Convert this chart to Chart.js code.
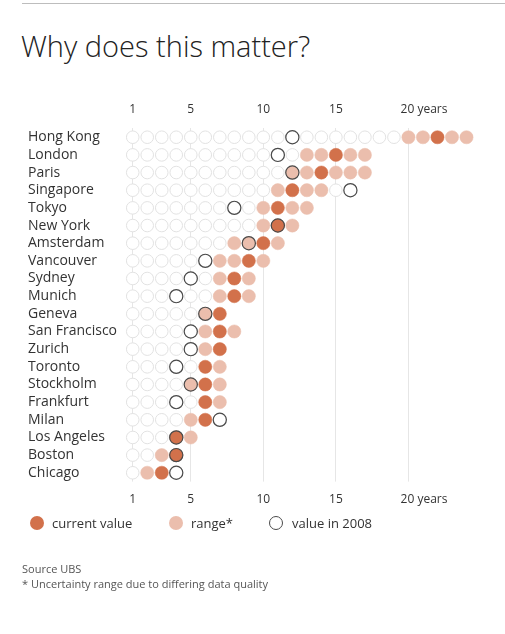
<!DOCTYPE html>
<html>
<head>
<meta charset="utf-8">
<script src="https://cdn.jsdelivr.net/npm/chart.js@4"></script>
<style>
    body { margin: 0; background: #fff; font-family: "Open Sans", sans-serif; }
    #page { position: relative; width: 505px; height: 634px; overflow: hidden; }
    #topline { position: absolute; left: 22px; right: 0; top: 3px; border-top: 1px solid #bdbdbd; }
    #title { position: absolute; left: 21px; top: 31px; font-size: 29px; line-height: 29px; font-weight: 300; color: #222; white-space: nowrap; }
    #chart-box { position: absolute; left: 0; top: 0; width: 505px; height: 634px; }
    .leg { position: absolute; top: 514px; height: 18px; font-size: 13px; line-height: 18px; color: #333; white-space: nowrap; }
    .dot { position: absolute; top: 2px; width: 14px; height: 14px; border-radius: 50%; box-sizing: border-box; }
    #source { position: absolute; left: 22px; top: 561px; font-size: 11px; line-height: 15px; color: #555; }
</style>
</head>
<body>
<div id="page">
    <div id="topline"></div>
    <div id="title">Why does this matter?</div>
    <div id="chart-box"><canvas id="myChart"></canvas></div>
    <div class="leg" style="left:30px"><span class="dot" style="left:0;background:#d2714b"></span><span style="position:absolute;left:22px">current value</span></div>
    <div class="leg" style="left:169px"><span class="dot" style="left:0;background:#ebbead"></span><span style="position:absolute;left:22px">range*</span></div>
    <div class="leg" style="left:269px"><span class="dot" style="left:0;border:1.3px solid #4a4a4a"></span><span style="position:absolute;left:23px">value in 2008</span></div>
    <div id="source">Source UBS<br>* Uncertainty range due to differing data quality</div>
</div>
<script>
// =====================
// Data (years of income needed)
// =====================
const cities = ['Hong Kong', 'London', 'Paris', 'Singapore', 'Tokyo', 'New York', 'Amsterdam',
    'Vancouver', 'Sydney', 'Munich', 'Geneva', 'San Francisco', 'Zurich', 'Toronto',
    'Stockholm', 'Frankfurt', 'Milan', 'Los Angeles', 'Boston', 'Chicago'];
const currentValue = [22, 15, 14, 12, 11, 11, 10, 9, 8, 8, 7, 7, 7, 6, 6, 6, 6, 4, 4, 3];
const rangeLow =     [20, 13, 12, 11, 10, 10, 8, 7, 7, 7, 6, 6, 6, 6, 5, 6, 5, 4, 3, 2];
const rangeHigh =    [24, 17, 17, 14, 13, 12, 11, 10, 9, 9, 7, 8, 7, 7, 7, 7, 6, 5, 4, 3];
const value2008 =    [12, 11, 12, 16, 8, 11, 9, 6, 5, 4, 6, 5, 5, 4, 5, 4, 7, 4, 4, 4];
const xTicks = [1, 5, 10, 15, 20];

// =====================
// Build the dot rows
// =====================
function buildDots() {
    const empty = [], range = [], current = [], past = [];
    cities.forEach((city, i) => {
        const last = Math.max(rangeHigh[i], value2008[i]);
        for (let v = 1; v <= last; v++) {
            const inRange = v >= rangeLow[i] && v <= rangeHigh[i];
            if (v === currentValue[i]) {
                current.push({x: v, y: city});
            } else if (inRange) {
                range.push({x: v, y: city});
            } else {
                empty.push({x: v, y: city});
            }
        }
        past.push({x: value2008[i], y: city});
    });
    return {empty, range, current, past};
}

function tickLabel(v) {
    // pad so the number itself sits on the tick
    return v === 20 ? '          20 years' : String(v);
}

function xAxis(position, padding, showGrid) {
    return {
        type: 'linear',
        position: position,
        min: 0.33,
        max: 25,
        afterBuildTicks: scale => { scale.ticks = xTicks.map(v => ({value: v})); },
        ticks: {
            padding: padding,
            autoSkip: false,
            maxRotation: 0,
            minRotation: 0,
            color: '#333',
            font: {family: 'Open Sans', size: 12},
            callback: tickLabel
        },
        grid: {display: showGrid, color: '#e6e6e6', lineWidth: 1, drawTicks: false},
        border: {display: false}
    };
}

const dots = buildDots();
const R = 6.6;

const ctx = document.getElementById('myChart').getContext('2d');
const chart = new Chart(ctx, {
    type: 'scatter',
    data: {
        datasets: [
            {
                label: 'value in 2008',
                data: dots.past,
                pointRadius: R,
                pointBackgroundColor: 'rgba(0,0,0,0)',
                pointBorderColor: '#4a4a4a',
                pointBorderWidth: 1.2,
                order: 0
            },
            {
                label: 'current value',
                data: dots.current,
                pointRadius: R,
                pointBackgroundColor: '#d2714b',
                pointBorderColor: '#d2714b',
                pointBorderWidth: 0.5,
                order: 1
            },
            {
                label: 'range*',
                data: dots.range,
                pointRadius: R,
                pointBackgroundColor: '#ebbead',
                pointBorderColor: '#ebbead',
                pointBorderWidth: 0.5,
                order: 2
            },
            {
                label: 'empty',
                data: dots.empty,
                pointRadius: R - 0.3,
                pointBackgroundColor: '#ffffff',
                pointBorderColor: '#e2e2e2',
                pointBorderWidth: 1,
                order: 3
            }
        ]
    },
    options: {
        responsive: true,
        maintainAspectRatio: false,
        animation: false,
        layout: {
            padding: {left: 28, right: 24, top: 90, bottom: 116}
        },
        plugins: {
            legend: {display: false},
            tooltip: {enabled: false}
        },
        scales: {
            x: xAxis('top', 12, true),
            x2: xAxis('bottom', 11, false),
            y: {
                type: 'category',
                labels: cities,
                offset: true,
                afterFit: scale => { scale.width = 95; },
                ticks: {
                    autoSkip: false,
                    crossAlign: 'far',
                    color: '#333',
                    font: {family: 'Open Sans', size: 14}
                },
                grid: {display: false, drawTicks: false},
                border: {display: false}
            }
        }
    }
});
</script>
</body>
</html>
